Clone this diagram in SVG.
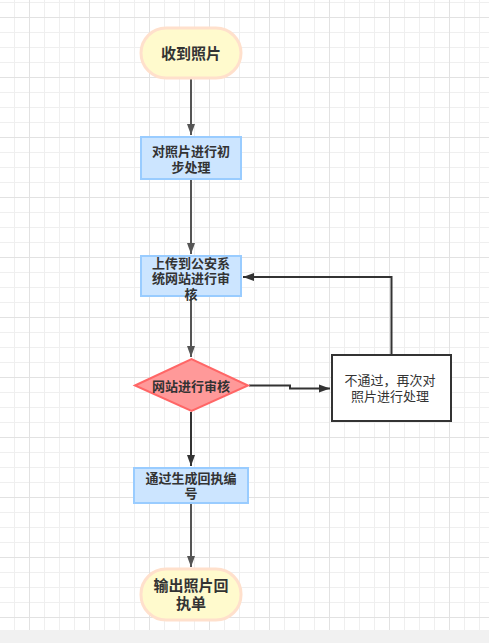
<svg xmlns="http://www.w3.org/2000/svg" width="489" height="643" viewBox="0 0 489 643">
<defs>
<pattern id="gMinor" patternUnits="userSpaceOnUse" x="0" y="2" width="15" height="15">
<path d="M14.5,0 V15 M0,0.5 H15" stroke="#efefef" stroke-width="1" fill="none"/>
</pattern>
<pattern id="gMajor" patternUnits="userSpaceOnUse" x="0" y="17" width="60" height="60">
<path d="M29.5,0 V60 M0,0.5 H60" stroke="#e2e2e2" stroke-width="1" fill="none"/>
</pattern>
<marker id="ah" markerUnits="userSpaceOnUse" markerWidth="12" markerHeight="10" refX="11" refY="5" orient="auto">
<path d="M0,1 L11,5 L0,9 z" fill="#555"/>
</marker>
<marker id="ahd" markerUnits="userSpaceOnUse" markerWidth="12" markerHeight="10" refX="11" refY="5" orient="auto">
<path d="M0,1 L11,5 L0,9 z" fill="#333"/>
</marker>
</defs>
<style>
.t{font-family:"Liberation Sans","Noto Sans CJK SC",sans-serif;fill:#333;text-anchor:middle;dominant-baseline:central}
.b{font-weight:bold;font-size:13px}
.tb{font-weight:bold;font-size:15px}
.n{font-size:13px}
.term{fill:#fffacd;stroke:#ffe0cc;stroke-width:3}
.proc{fill:#cce5ff;stroke:#99ccff;stroke-width:2}
.dia{fill:#ff9999;stroke:#ff6666;stroke-width:2}
.plain{fill:#fff;stroke:#333;stroke-width:2}
.c{fill:none;stroke:#555;stroke-width:2}
.cd{fill:none;stroke:#333;stroke-width:2}
</style>
<rect x="0" y="0" width="489" height="643" fill="#fff"/>
<rect x="0" y="0" width="489" height="630" fill="url(#gMinor)"/>
<rect x="0" y="0" width="489" height="630" fill="url(#gMajor)"/>
<rect x="0" y="630" width="489" height="13" fill="#f1f1f1"/>

<g id="connectors">
<path class="c" d="M191,79 V135" marker-end="url(#ah)"/>
<path class="c" d="M191,180 V254" marker-end="url(#ah)"/>
<path class="c" d="M191,297 V357" marker-end="url(#ah)"/>
<path class="cd" d="M249,385.5 H290 V388.5 H330" marker-end="url(#ahd)"/>
<path class="cd" d="M391.5,355 V277 H243" marker-end="url(#ahd)"/>
<path class="cd" d="M191,412 V466" marker-end="url(#ahd)"/>
<path class="c" d="M191,504 V567" marker-end="url(#ah)"/>
</g>

<g id="start">
<rect class="term" x="141" y="28" width="100" height="50" rx="25"/>
<text class="t tb" x="191" y="53">收到照片</text>
</g>
<g id="preprocess">
<rect class="proc" x="141" y="137" width="100" height="42"/>
<text class="t b" x="191" y="151">对照片进行初</text>
<text class="t b" x="191" y="167">步处理</text>
</g>
<g id="upload">
<rect class="proc" x="141" y="256" width="100" height="40"/>
<text class="t b" x="191" y="263">上传到公安系</text>
<text class="t b" x="191" y="278.5">统网站进行审</text>
<text class="t b" x="191" y="294">核</text>
</g>
<g id="review">
<polygon class="dia" points="135,385.5 191.5,359 248,385.5 191.5,411"/>
<text class="t b" x="191" y="386">网站进行审核</text>
</g>
<g id="reject">
<rect class="plain" x="332" y="355" width="119" height="66"/>
<text class="t n" x="390" y="380.5">不通过，再次对</text>
<text class="t n" x="390" y="396.5">照片进行处理</text>
</g>
<g id="receipt">
<rect class="proc" x="134" y="468" width="114" height="35"/>
<text class="t b" x="191" y="478">通过生成回执编</text>
<text class="t b" x="191" y="493">号</text>
</g>
<g id="end">
<rect class="term" x="141" y="569" width="100" height="51" rx="25"/>
<text class="t tb" x="191" y="585">输出照片回</text>
<text class="t tb" x="191" y="603">执单</text>
</g>
</svg>
